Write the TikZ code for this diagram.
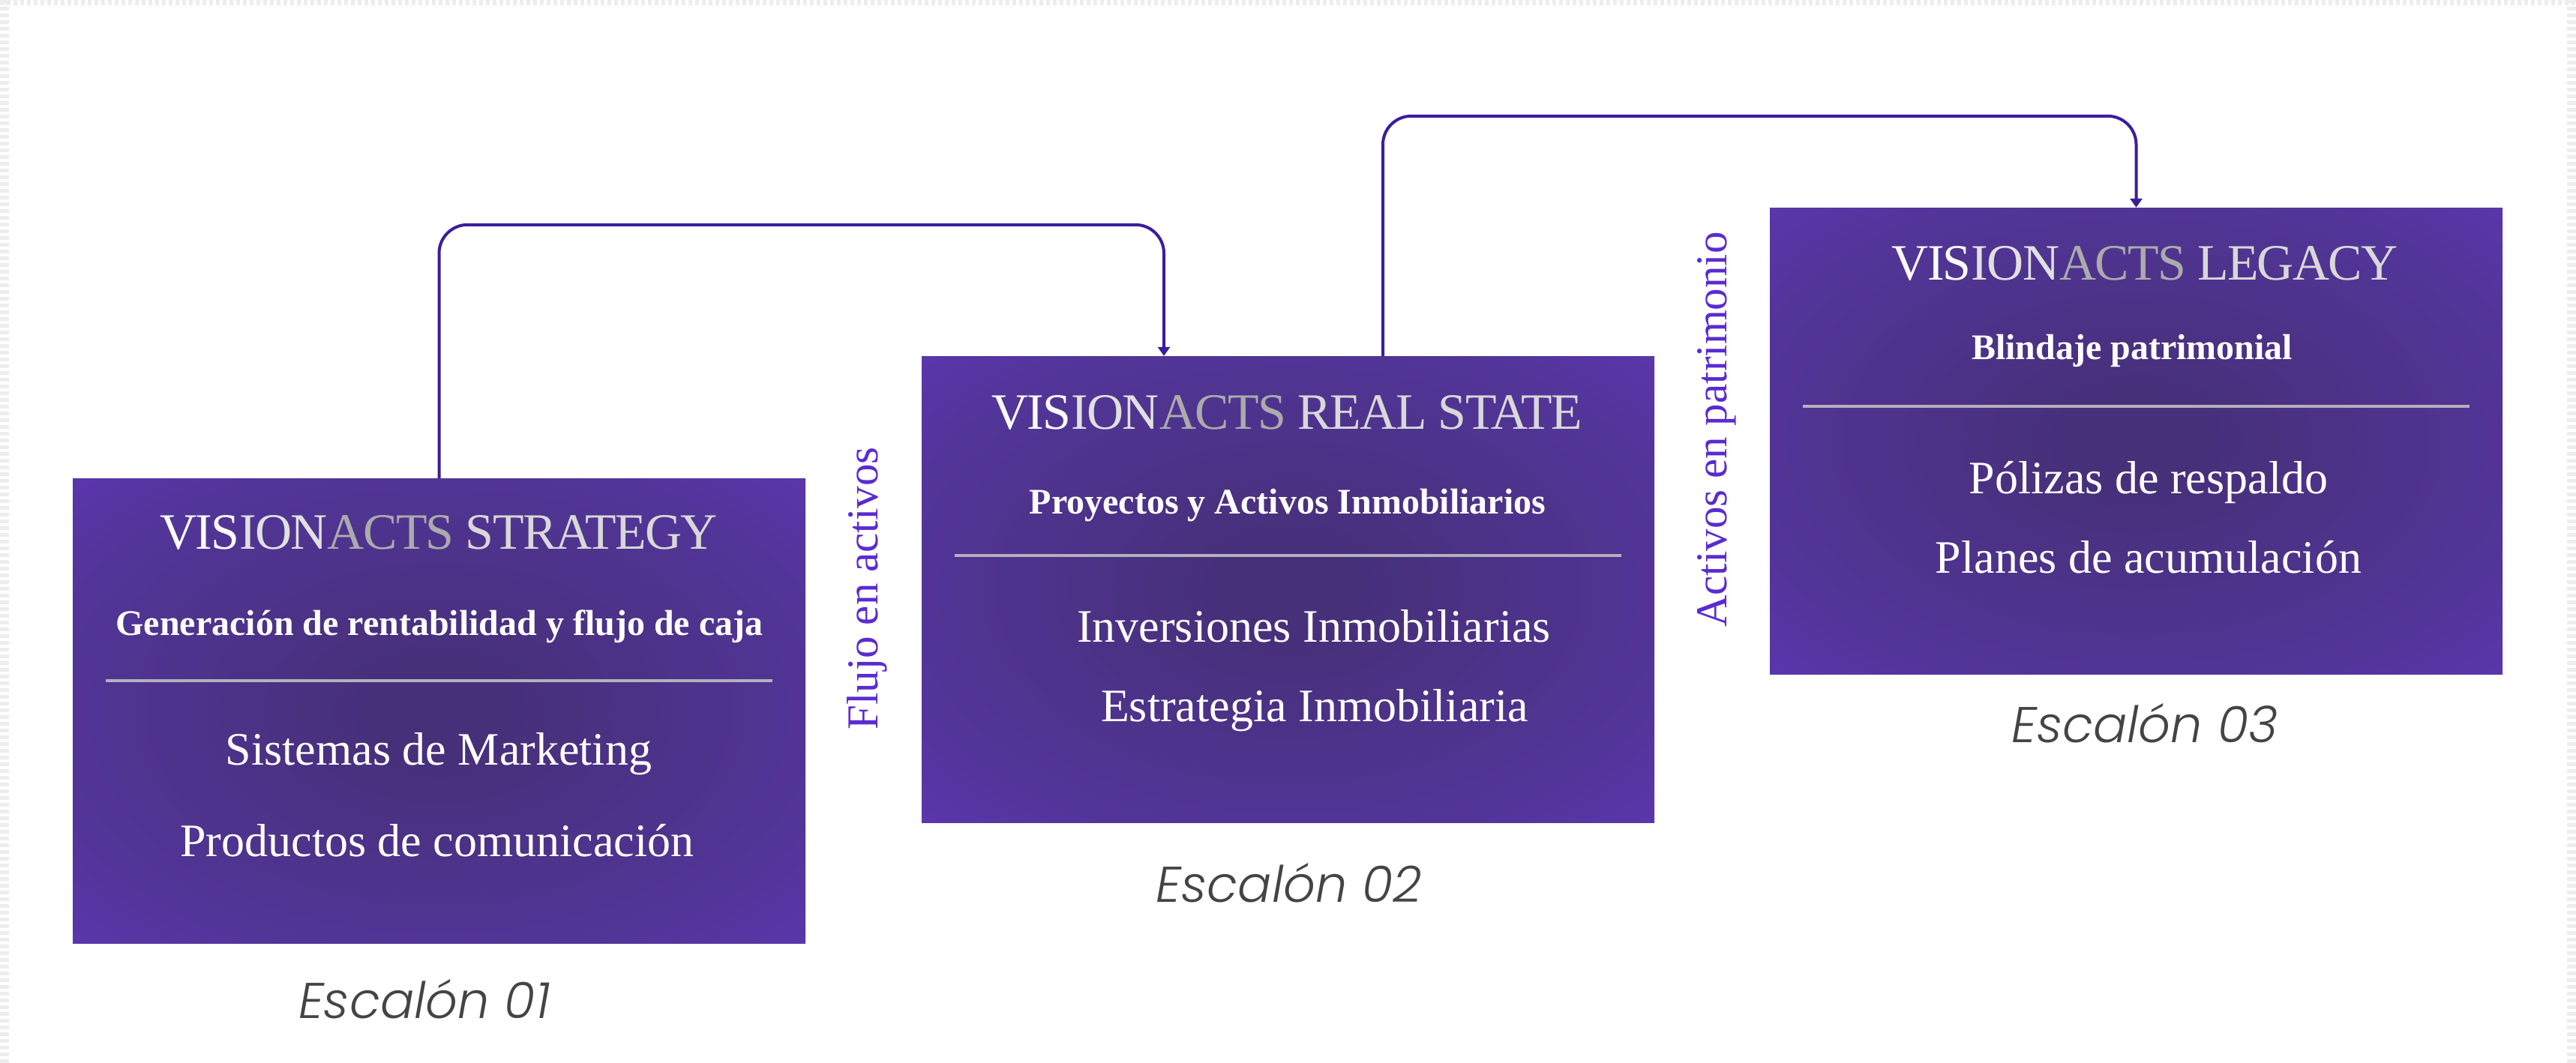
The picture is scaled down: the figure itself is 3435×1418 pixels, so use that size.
\documentclass[tikz,border=0pt]{standalone}
\usepackage{fontspec}
\setmainfont{Liberation Serif}
\newfontfamily\titlefont{Liberation Serif}[LetterSpace=-2.5]
\newfontfamily\escfont{Poppins Light}
\usetikzlibrary{arrows.meta,calc}
\definecolor{bxin}{HTML}{47307A}
\definecolor{bxmid}{HTML}{523598}
\definecolor{bxedge}{HTML}{6539C8}
\definecolor{bxcorner}{HTML}{6E3FDD}
\definecolor{conncol}{HTML}{3B1D9E}
\definecolor{lblcol}{HTML}{5A2BD2}
\definecolor{divcol}{HTML}{B4B0BC}
\definecolor{escgray}{HTML}{444444}
\definecolor{tw}{HTML}{FAFAFA}
\definecolor{tl}{HTML}{E0E0E0}
\definecolor{tg}{HTML}{ABABAB}
\definecolor{ts}{HTML}{D8D8D8}
\definecolor{noisecol}{HTML}{EDEDED}
\pgfdeclareradialshading{boxshade}{\pgfpoint{0bp}{0bp}}{color(0bp)=(bxin); color(5bp)=(bxin); color(27bp)=(bxmid); color(48bp)=(bxedge); color(71bp)=(bxcorner); color(100bp)=(bxcorner)}
\newcommand\vistitle[1]{\textcolor{tw}{VIS}\textcolor{tl}{ION}\textcolor{tg}{ACTS} \textcolor{ts}{#1}}
\tikzset{
  stepbox/.style={rectangle, minimum width=977pt, minimum height=620pt, inner sep=0pt, shade, shading=boxshade, draw=none},
  ttl/.style={font=\titlefont\fontsize{68}{74}\selectfont, anchor=base, inner sep=0pt},
  subttl/.style={text=white, font=\bfseries\fontsize{48}{54}\selectfont, anchor=base, inner sep=0pt},
  bodytxt/.style={text=white, font=\fontsize{62}{70}\selectfont, anchor=base, inner sep=0pt},
  divline/.style={draw=divcol, line width=3.5pt},
  conn/.style={draw=conncol, line width=4pt, rounded corners=38pt},
  flowlbl/.style={text=lblcol, font=\fontsize{59}{66}\selectfont, rotate=90, anchor=base, inner sep=0pt},
  esc/.style={text=escgray, font=\escfont\itshape\fontsize{67}{74}\selectfont, anchor=base, inner sep=0pt},
  noise/.style={draw=noisecol, dash pattern=on 5pt off 4pt},
}
\begin{document}
\begin{tikzpicture}[x=1pt,y=-1pt]
\path[use as bounding box, fill=white] (0,0) rectangle (3435,1418);
% faint textured frame
\draw[noise, line width=12pt] (6,0) -- (6,1418);
\draw[noise, line width=12pt] (3429,0) -- (3429,1418);
\draw[noise, line width=7pt] (0,4) -- (3435,4);
% boxes
\node[stepbox] (b1) at (585.5,948) {};
\node[stepbox, minimum height=622pt] (b2) at (1717.5,786) {};
\node[stepbox, minimum height=622pt] (b3) at (2848.5,588) {};
% dividers
\draw[divline] ($(b1.north west)+(44,270)$) -- ($(b1.north east)+(-44,270)$);
\draw[divline] ($(b2.north west)+(44,266)$) -- ($(b2.north east)+(-44,266)$);
\draw[divline] ($(b3.north west)+(44,265)$) -- ($(b3.north east)+(-44,265)$);
% box 1 texts
\node[ttl] (t1) at (585,732) {\vistitle{STRATEGY}};
\node[subttl] (s1) at (586,847) {Generación de rentabilidad y flujo de caja};
\node[bodytxt] (p1a) at (585,1020) {Sistemas de Marketing};
\node[bodytxt] (p1b) at (583,1142) {Productos de comunicación};
\node[esc] (e1) at (566,1358) {Escalón 01};
% box 2 texts
\node[ttl] (t2) at (1716,572) {\vistitle{REAL STATE}};
\node[subttl] (s2) at (1717,685) {Proyectos y Activos Inmobiliarios};
\node[bodytxt] (p2a) at (1752,856) {Inversiones Inmobiliarias};
\node[bodytxt] (p2b) at (1753,962) {Estrategia Inmobiliaria};
\node[esc] (e2) at (1719,1203) {Escalón 02};
% box 3 texts
\node[ttl] (t3) at (2860,373) {\vistitle{LEGACY}};
\node[subttl] (s3) at (2843,479) {Blindaje patrimonial};
\node[bodytxt] (p3a) at (2865,658) {Pólizas de respaldo};
\node[bodytxt] (p3b) at (2865,764) {Planes de acumulación};
\node[esc] (e3) at (2860,990) {Escalón 03};
% rotated labels
\node[flowlbl] (l1) at (1170,785) {Flujo en activos};
\node[flowlbl] (l2) at (2302,573) {Activos en patrimonio};
% connectors
\draw[conn, -{Triangle[width=16pt,length=12pt]}] (b1.north) |- ($([xshift=-165.5pt]b2.north)+(0,-175)$) -- ([xshift=-165.5pt]b2.north);
\draw[conn, -{Triangle[width=16pt,length=12pt]}] ([xshift=126.5pt]b2.north) |- ($(b3.north)+(0,-122)$) -- (b3.north);
\end{tikzpicture}
\end{document}
